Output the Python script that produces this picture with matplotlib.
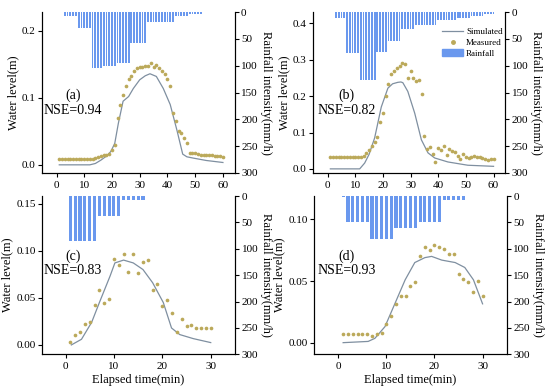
import matplotlib.pyplot as plt
from matplotlib.lines import Line2D
from matplotlib.patches import Patch

plt.rcParams['font.family'] = ['Liberation Serif', 'DejaVu Serif']
plt.rcParams['font.size'] = 8

# ---------------- data ----------------
# (a)
a_meas_t = list(range(1, 61))
a_meas = [0.0085] * 12 + [0.009, 0.010, 0.011, 0.013, 0.015, 0.015, 0.016, 0.022,
          0.030, 0.070, 0.090, 0.105, 0.118, 0.128, 0.133, 0.140, 0.145, 0.146,
          0.146, 0.147, 0.147, 0.152, 0.146, 0.149, 0.145, 0.140, 0.135, 0.128,
          0.117, 0.077, 0.066, 0.050, 0.048, 0.040, 0.032, 0.018, 0.018, 0.017,
          0.016, 0.015, 0.015, 0.015, 0.015, 0.014, 0.013, 0.013, 0.013, 0.012]
a_sim_t = [1, 12, 14, 16, 18, 19.6, 21, 22.3, 24, 26, 27.7, 30, 32, 33.7, 36, 38.5,
           41, 43.4, 45.5, 47, 49.4, 54, 60]
a_sim = [0.0, 0.0, 0.002, 0.007, 0.013, 0.02, 0.032, 0.062, 0.095, 0.102, 0.114,
         0.127, 0.133, 0.136, 0.132, 0.114, 0.09, 0.052, 0.016, 0.012, 0.01, 0.0065, 0.0035]
a_rain_t = list(range(3, 53))
a_rain = [7] * 5 + [29] * 5 + [104] * 4 + [101] * 5 + [95] * 5 + [58] * 6 + [18] * 10 + [7] * 5 + [3] * 5

# (b)
b_meas_t = list(range(1, 61))
b_meas = [0.032] * 12 + [0.036, 0.044, 0.053, 0.062, 0.074, 0.088, 0.128, 0.153,
          0.200, 0.234, 0.261, 0.270, 0.277, 0.283, 0.292, 0.289, 0.251, 0.270,
          0.251, 0.242, 0.245, 0.206, 0.091, 0.056, 0.059, 0.042, 0.018, 0.058,
          0.051, 0.064, 0.037, 0.056, 0.048, 0.046, 0.035, 0.028, 0.041, 0.033,
          0.030, 0.033, 0.035, 0.033, 0.033, 0.030, 0.027, 0.024, 0.027, 0.028]
b_sim_t = [1, 11.6, 13.4, 15, 17, 19.4, 21.8, 23.5, 25.4, 26.5, 27.2, 29, 31.5,
           33.9, 36.3, 38.7, 43.5, 50.7, 60]
b_sim = [0.0, 0.0, 0.016, 0.04, 0.085, 0.17, 0.222, 0.234, 0.238, 0.239, 0.237,
         0.213, 0.153, 0.08, 0.044, 0.03, 0.019, 0.010, 0.007]
b_rain_t = list(range(3, 61))
b_rain = [10] * 4 + [77] * 5 + [127] * 6 + [74] * 4 + [54] * 5 + [32] * 5 + [24] * 8 + [14] * 7 + [10] * 5 + [7] * 5 + [4] * 4

# (c)
c_meas_t = list(range(1, 31))
c_meas = [0.0035, 0.011, 0.014, 0.022, 0.024, 0.042, 0.058, 0.044, 0.049, 0.091,
          0.085, 0.097, 0.077, 0.096, 0.076, 0.088, 0.090, 0.058, 0.065, 0.041,
          0.048, 0.034, 0.014, 0.028, 0.020, 0.021, 0.018, 0.018, 0.018, 0.018]
c_sim_t = [1.2, 3.3, 5.4, 7, 9.2, 10.2, 12, 14, 16, 18, 20.2, 21.9, 23.6, 26.4, 30]
c_sim = [0.0, 0.006, 0.024, 0.045, 0.073, 0.087, 0.09, 0.087, 0.08, 0.066, 0.045,
         0.018, 0.011, 0.0067, 0.0025]
c_rain_t = list(range(1, 17))
c_rain = [86] * 6 + [37] * 5 + [7] * 5

# (d)
d_meas_t = list(range(1, 31))
d_meas = [0.007] * 6 + [0.0057, 0.007, 0.008, 0.015, 0.022, 0.0315, 0.038, 0.038,
          0.046, 0.049, 0.070, 0.078, 0.075, 0.079, 0.0775, 0.076, 0.072, 0.072,
          0.056, 0.052, 0.049, 0.041, 0.050, 0.038]
d_sim_t = [1, 6.2, 7.6, 9.7, 11.8, 13.9, 15.9, 18, 19.4, 21.5, 24.3, 26.3, 28.1, 30]
d_sim = [0.0, 0.001, 0.0035, 0.013, 0.032, 0.051, 0.065, 0.069, 0.070, 0.067,
         0.065, 0.061, 0.051, 0.0315]
d_rain_t = list(range(1, 27))
d_rain = [2] + [49] * 5 + [82] * 5 + [61] * 5 + [50] * 5 + [8] * 5

sim_color = '#7f8fa0'
meas_color = '#bba95a'
rain_color = '#6a98ee'

panels = [
    # t_meas, meas, t_sim, sim, t_rain, rain, pos, xlim, ylim, yticks, xticks, tag, nse, fmt
    (a_meas_t, a_meas, a_sim_t, a_sim, a_rain_t, a_rain, [0.076, 0.559, 0.351, 0.41],
     (-5.3, 64.3), (-0.012, 0.228), [0.0, 0.1, 0.2], range(0, 61, 10), '(a)', 'NSE=0.94', '%.1f'),
    (b_meas_t, b_meas, b_sim_t, b_sim, b_rain_t, b_rain, [0.569, 0.559, 0.350, 0.41],
     (-5.3, 64.3), (-0.011, 0.431), [0.0, 0.1, 0.2, 0.3, 0.4], range(0, 61, 10), '(b)', 'NSE=0.82', '%.1f'),
    (c_meas_t, c_meas, c_sim_t, c_sim, c_rain_t, c_rain, [0.076, 0.096, 0.352, 0.404],
     (-4.9, 35.1), (-0.01, 0.158), [0.0, 0.05, 0.10, 0.15], range(0, 31, 10), '(c)', 'NSE=0.83', '%.2f'),
    (d_meas_t, d_meas, d_sim_t, d_sim, d_rain_t, d_rain, [0.571, 0.096, 0.351, 0.404],
     (-5.05, 35.1), (-0.0095, 0.119), [0.0, 0.05, 0.10], range(0, 31, 10), '(d)', 'NSE=0.93', '%.2f'),
]

fig = plt.figure(figsize=(5.5, 3.92), dpi=100)

for i, (tm, ym, ts, ys, tr, yr, pos, xl, yl, yt, xt, tag, nse, fmt) in enumerate(panels):
    ax = fig.add_axes(pos)
    ax.plot(ts, ys, color=sim_color, lw=0.9, zorder=2)
    ax.scatter(tm, ym, s=7, color=meas_color, linewidths=0, zorder=3)
    ax.set_xlim(xl)
    ax.set_ylim(yl)
    ax.set_yticks(yt)
    ax.set_yticklabels([fmt % v for v in yt])
    ax.set_xticks(list(xt))
    ax.spines['top'].set_visible(False)
    ax.tick_params(direction='out', length=3, width=0.8, labelsize=8)
    ax.tick_params(axis='y', pad=1.5)
    ax.tick_params(axis='x', pad=2.5)
    ax.set_ylabel('Water level(m)', fontsize=9, labelpad=2)
    if i >= 2:
        ax.set_xlabel('Elapsed time(min)', fontsize=9, labelpad=2)
    if i < 2:
        tx, ty1, ty2 = 0.16 + (0.015 if i == 1 else 0), 0.48, 0.39
    else:
        tx, ty1, ty2 = 0.16 + (0.01 if i == 3 else 0), 0.62, 0.53
    ax.text(tx, ty1, tag, transform=ax.transAxes, fontsize=10, ha='center', va='center')
    ax.text(tx, ty2, nse, transform=ax.transAxes, fontsize=10, ha='center', va='center')

    ax2 = ax.twinx()
    ax2.bar(tr, yr, width=0.65, color=rain_color, linewidth=0)
    ax2.set_ylim(300, 0)
    ax2.set_yticks(range(0, 301, 50))
    ax2.spines['top'].set_visible(False)
    ax2.tick_params(direction='out', length=3, width=0.8, labelsize=8, pad=1.5)
    ax2.set_ylabel('Rainfall intensity(mm/h)', fontsize=9, rotation=270, va='center', ha='center')
    ax2.yaxis.set_label_coords(1.16, 0.5)

    if i == 1:
        handles = [Line2D([], [], color=sim_color, lw=0.9),
                   Line2D([], [], color=meas_color, marker='o', ms=2.5, lw=0),
                   Patch(color=rain_color)]
        ax2.legend(handles, ['Simulated', 'Measured', 'Rainfall'], loc='upper left',
                   bbox_to_anchor=(0.64, 0.94), frameon=False, fontsize=6.5,
                   handlelength=2.3, handletextpad=0.3, labelspacing=0.25,
                   borderpad=0.2)

fig.savefig('out.png', dpi=100)
